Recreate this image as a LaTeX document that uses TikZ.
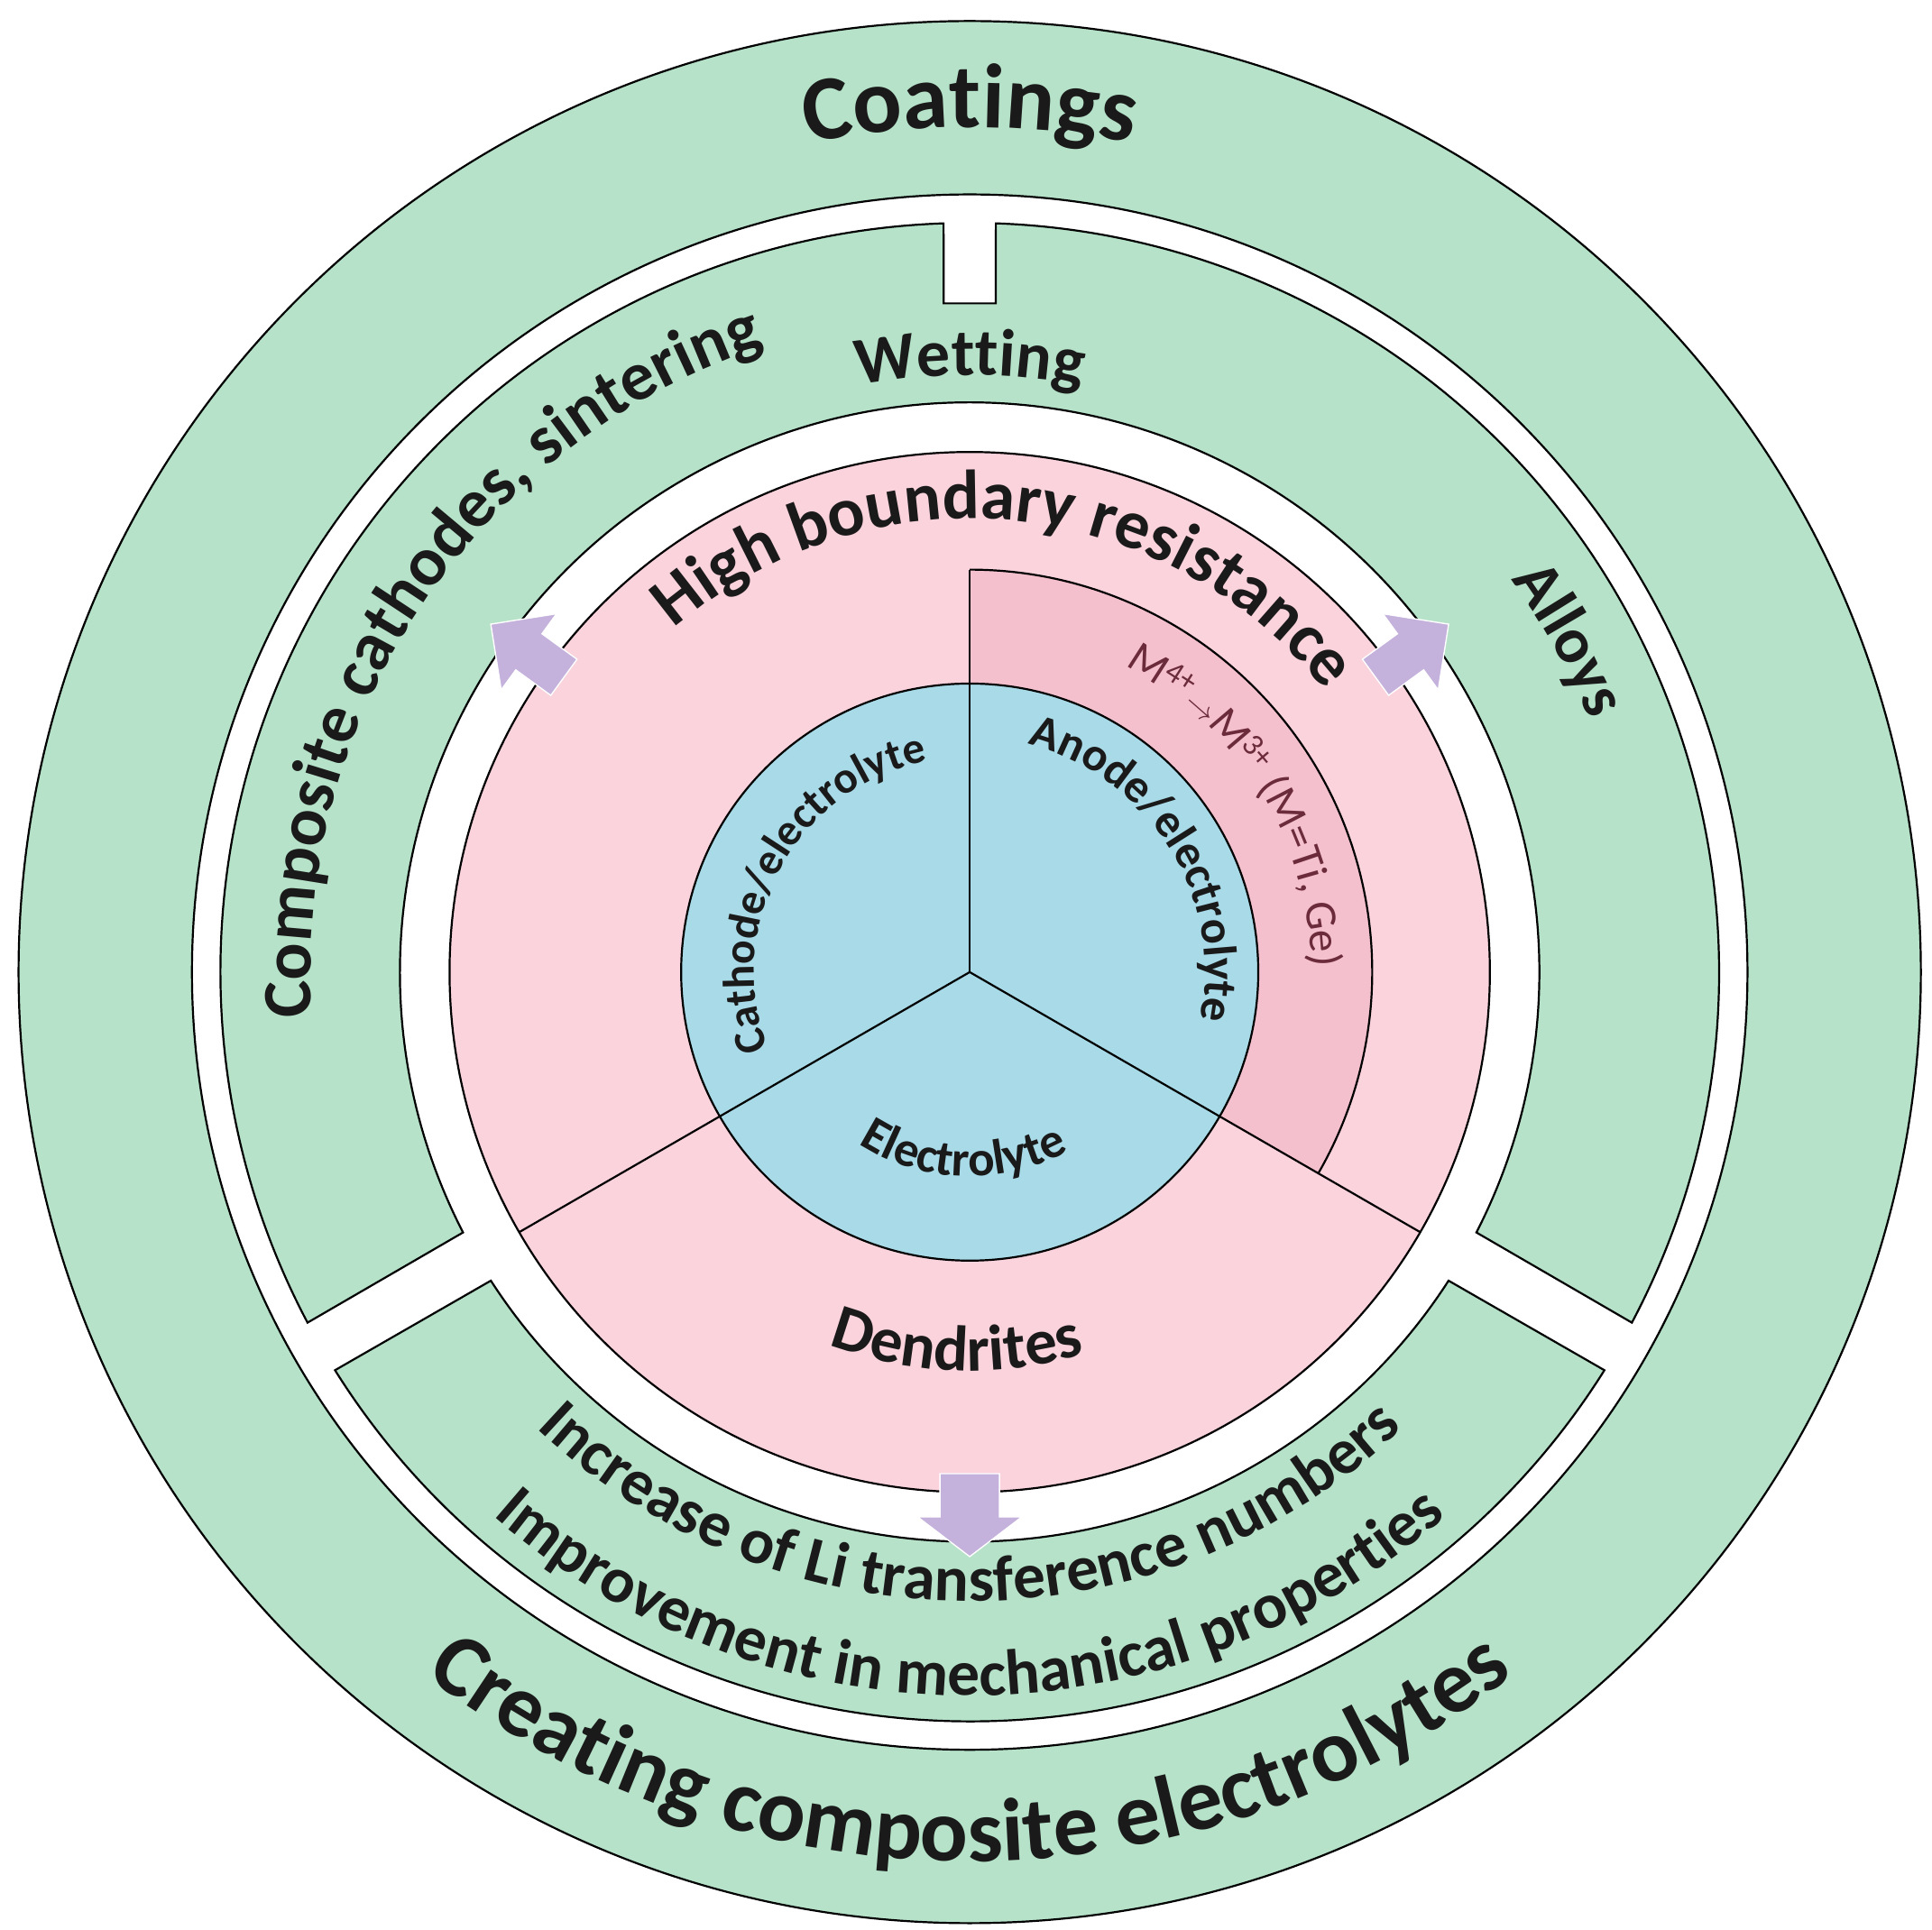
\documentclass[tikz,border=0pt]{standalone}
\usepackage{fontspec}
\setmainfont{Carlito}
\usetikzlibrary{decorations.text}
\definecolor{grn}{HTML}{B5E2C8}
\definecolor{pnk}{HTML}{FBD3DD}
\definecolor{dpnk}{HTML}{F5C0CD}
\definecolor{blu}{HTML}{A8DAE8}
\definecolor{prp}{HTML}{C4B2DD}
\definecolor{txt}{HTML}{1A1A1A}
\definecolor{mtxt}{HTML}{6B2B3A}
\newcommand\ctext[5]{\path[decorate,decoration={text along path,text align=center,text color=txt,text={|#5|#4}}] (#2:#1) arc[start angle=#2,end angle=#3,radius=#1];}
\tikzset{ol/.style={draw=black,line width=1.6},
  arr/.style={fill=prp,draw=white,line width=1}}
\begin{document}
\begin{tikzpicture}[x=1pt,y=1pt]
\useasboundingbox (-783,-773) rectangle (777,785);
\fill[white] (-783,-773) rectangle (777,785);
% outer ring
\draw[ol,fill=grn] (0,0) circle[radius=768];
\draw[ol,fill=white] (0,0) circle[radius=628];
% middle ring segments
\draw[ol,fill=grn] (-27.9:605) arc[start angle=-27.9,end angle=88,radius=605]
  -- (21,540) -- (-21,540) -- (92:605) arc[start angle=92,end angle=207.9,radius=605]
  -- (207.2:460) arc[start angle=207.2,end angle=-27.2,radius=460] -- cycle;
\draw[ol,fill=grn] (212.1:605) arc[start angle=212.1,end angle=327.9,radius=605]
  -- (327.2:460) arc[start angle=327.2,end angle=212.8,radius=460] -- cycle;
% pink disc
\draw[ol,fill=pnk] (0,0) circle[radius=420];
\fill[dpnk] (0,0) -- (90:325) arc[start angle=90,end angle=-30,radius=325] -- cycle;
\draw[ol] (90:325) arc[start angle=90,end angle=-30,radius=325];
\draw[ol,fill=blu] (0,0) circle[radius=233];
\draw[ol] (0,0) -- (90:325);
\draw[ol] (0,0) -- (210:420);
\draw[ol] (0,0) -- (330:420);
% arrows
\foreach \a/\w/\h/\s/\t in {144/18/38/440/478, 36/18/38/440/478, 270/24/42/440/472}{
  \begin{scope}[rotate=\a]
  \draw[arr] (405,-\w) -- (\s,-\w) -- (\s,-\h) -- (\t,0) -- (\s,\h) -- (\s,\w) -- (405,\w) -- cycle;
  \end{scope}}
% texts
\ctext{682}{150}{30}{Coatings}{\fontsize{74}{84}\selectfont\bfseries}
\ctext{718}{190}{350}{Creating composite electrolytes}{\fontsize{72}{80}\selectfont\bfseries}
\ctext{532}{206}{86}{Composite cathodes, sintering}{\fontsize{56}{64}\selectfont\bfseries}
\ctext{482}{130}{50}{Wetting}{\fontsize{54}{62}\selectfont\bfseries}
\ctext{540}{62}{-4}{Alloys}{\fontsize{52}{60}\selectfont\bfseries}
\ctext{366}{165}{4}{High boundary resistance}{\fontsize{56}{64}\selectfont\bfseries}
\path[decorate,decoration={text along path,text align=center,text color=mtxt,
  text={|\fontsize{36}{42}\selectfont|{M\textsuperscript{4+}}{$\rightarrow$}{M\textsuperscript{3+}} (M=Ti, Ge)}}]
  (88:276) arc[start angle=88,end angle=-24,radius=276];
\ctext{190}{92}{-28}{Anode/electrolyte}{\fontsize{38}{44}\selectfont\bfseries}
\ctext{174}{215}{87}{Cathode/electrolyte}{\fontsize{36}{42}\selectfont\bfseries}
\ctext{165}{208}{328}{Electrolyte}{\fontsize{40}{46}\selectfont\bfseries}
\ctext{322}{225}{311}{Dendrites}{\fontsize{52}{60}\selectfont\bfseries}
\ctext{508}{195}{345}{Increase of Li transference numbers}{\fontsize{52}{60}\selectfont\bfseries}
\ctext{584}{195}{345}{Improvement in mechanical properties}{\fontsize{52}{60}\selectfont\bfseries}
\end{tikzpicture}
\end{document}
